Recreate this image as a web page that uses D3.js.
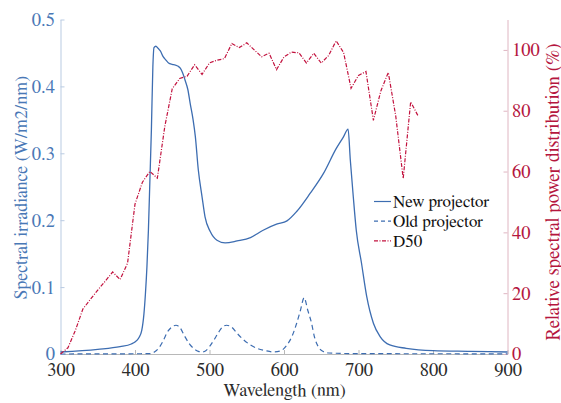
<!DOCTYPE html>
<html><head><meta charset="utf-8">
<script src="https://d3js.org/d3.v7.min.js"></script>
<style>
html,body{margin:0;padding:0;background:#fff;}
</style></head>
<body><svg id="c" width="561" height="403"></svg>
<script>
// ---- data ----
const newWl  = [300,350,380,395,400,405,409,412,414,416,418,420,422,424,425.5,428,431,434,438,441,445,450,454,458,461,464,467,471,474,478,481,485,490,494,501,510,521,537,555,572,590,604,617,635,653,670,680,686,689,693,697,704,711,720,729,742,764,800,850,900];
const newVal = [0.003,0.007,0.011,0.015,0.018,0.024,0.035,0.060,0.090,0.130,0.185,0.260,0.335,0.430,0.458,0.460,0.457,0.453,0.444,0.440,0.435,0.433,0.432,0.430,0.427,0.420,0.410,0.395,0.375,0.350,0.325,0.275,0.235,0.205,0.183,0.170,0.166,0.169,0.174,0.185,0.194,0.199,0.213,0.240,0.270,0.307,0.325,0.336,0.290,0.235,0.185,0.136,0.086,0.046,0.026,0.0135,0.0085,0.005,0.004,0.003];

const oldWl  = [300,420,426,432,438,443,449,455,460,467,473,479,485,490,495,500,506,512,517,523,530,537,545,555,565,575,586,596,604,611,617,622,627,632,637,641,646,652,660,700,900];
const oldVal = [0,0.0005,0.003,0.009,0.020,0.032,0.040,0.043,0.040,0.026,0.015,0.008,0.004,0.003,0.005,0.011,0.021,0.032,0.040,0.043,0.040,0.031,0.022,0.0135,0.008,0.005,0.003,0.005,0.0135,0.027,0.046,0.065,0.084,0.065,0.046,0.025,0.011,0.004,0.0015,0.0005,0.0003];

const d50Wl  = [300,310,320,330,340,350,360,370,380,390,400,410,420,430,440,450,460,470,480,490,500,510,520,530,540,550,560,570,580,590,600,610,620,630,640,650,660,670,680,690,700,710,720,730,740,750,760,770,780];
const d50Val = [0.02,2.05,7.78,14.75,17.95,21.01,23.94,26.96,24.49,29.87,49.31,56.51,60.03,57.82,74.83,87.25,90.61,91.37,95.11,91.96,95.72,96.61,97.13,102.10,100.76,102.32,100.00,97.74,98.92,93.50,97.69,99.27,99.04,95.72,98.86,95.67,98.19,103.00,99.13,87.38,91.60,92.89,76.85,86.51,92.58,78.23,57.69,82.92,78.27];

const xTicks = [300,400,500,600,700,800,900];
const yLeftTicks = [0,0.1,0.2,0.3,0.4,0.5];
const yRightTicks = [0,20,40,60,80,100];
const seriesNames = ["New projector","Old projector","D50"];

// ---- layout ----
const FONT = "FreeSerif,'Liberation Serif','Times New Roman',serif";
const L = 60.5, R = 507.5, T = 19.5, B = 354;
const BLUE = "#3d6db1", BLUE_T = "#4a78b6", RED = "#c2123e", RED_T = "#b5163e";
const svg = d3.select("#c");

const x = d3.scaleLinear().domain([300,900]).range([L,R]);
const yL = d3.scaleLinear().domain([0,0.5]).range([B,T]);
const yR = d3.scaleLinear().domain([0,110]).range([B,T]);

// axes
const xAxis = svg.append("g").attr("transform",`translate(0,${B})`)
  .call(d3.axisBottom(x).tickValues(xTicks).tickSizeInner(-4).tickSizeOuter(0).tickPadding(9).tickFormat(d3.format("d")));
xAxis.attr("font-family",FONT);
xAxis.select(".domain").attr("stroke","#b8b8b8");
xAxis.selectAll(".tick line").attr("stroke","#b8b8b8");
xAxis.selectAll("text").attr("fill","#2b2b2b").attr("font-size",18.5).attr("font-family",FONT).attr("dy","0.72em");

const yAxL = svg.append("g").attr("transform",`translate(${L},0)`)
  .call(d3.axisLeft(yL).tickValues(yLeftTicks).tickSizeInner(-4).tickSizeOuter(0).tickPadding(5.5).tickFormat(d=>d===0?"0":d3.format(".1f")(d)));
yAxL.attr("font-family",FONT);
yAxL.select(".domain").attr("stroke","#b9cbe2");
yAxL.selectAll(".tick line").attr("stroke","#b9cbe2");
yAxL.selectAll("text").attr("fill",BLUE_T).attr("font-size",18.5).attr("font-family",FONT);

const yAxR = svg.append("g").attr("transform",`translate(${R},0)`)
  .call(d3.axisRight(yR).tickValues(yRightTicks).tickSizeInner(-4).tickSizeOuter(0).tickPadding(4.5).tickFormat(d3.format("d")));
yAxR.attr("font-family",FONT);
yAxR.select(".domain").attr("stroke","#dfb6c2");
yAxR.selectAll(".tick line").attr("stroke","#dfb6c2");
yAxR.selectAll("text").attr("fill",RED_T).attr("font-size",18.5).attr("font-family",FONT);

// axis labels
svg.append("text").attr("x",284.5).attr("y",396).attr("text-anchor","middle").attr("font-family",FONT)
  .attr("font-size",18).attr("fill","#2b2b2b").text("Wavelength (nm)");
svg.append("text").attr("transform","translate(27,187.5) rotate(-90)").attr("text-anchor","middle").attr("font-family",FONT)
  .attr("font-size",18).attr("fill",BLUE_T).text("Spectral irradiance (W/m2/nm)");
svg.append("text").attr("transform","translate(559,192) rotate(-90)").attr("text-anchor","middle").attr("font-family",FONT)
  .attr("font-size",19).attr("fill",RED_T).text("Relative spectral power distribution (%)");

// lines
const lineL = d3.line().x(d=>x(d[0])).y(d=>yL(d[1])).curve(d3.curveMonotoneX);
const lineR = d3.line().x(d=>x(d[0])).y(d=>yR(d[1]));

svg.append("path").datum(d3.zip(oldWl,oldVal)).attr("d",lineL)
  .attr("fill","none").attr("stroke",BLUE).attr("stroke-width",1.2).attr("stroke-dasharray","5,3.5");
svg.append("path").datum(d3.zip(newWl,newVal)).attr("d",lineL)
  .attr("fill","none").attr("stroke",BLUE).attr("stroke-width",1.3);
svg.append("path").datum(d3.zip(d50Wl,d50Val)).attr("d",lineR)
  .attr("fill","none").attr("stroke",RED).attr("stroke-width",1.2).attr("stroke-dasharray","4,1.5,1,1.5");

// legend
const dashes = [null,"4,3","4,1.5,1,1.5"];
const colors = [BLUE,BLUE,RED];
const lg = svg.append("g");
seriesNames.forEach((n,i)=>{
  const yy = 201.5 + i*19.7;
  lg.append("line").attr("x1",374).attr("x2",391).attr("y1",yy).attr("y2",yy)
    .attr("stroke",colors[i]).attr("stroke-width",1.2).attr("stroke-dasharray",dashes[i]);
  lg.append("text").attr("x",393).attr("y",yy).attr("dy","0.33em").attr("font-size",17).attr("font-family",FONT)
    .attr("fill","#111").text(n);
});
</script></body></html>
